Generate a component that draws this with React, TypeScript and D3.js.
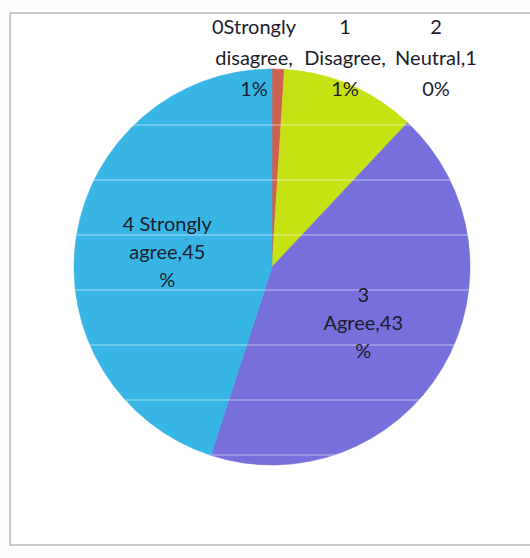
import React from "react";
import * as d3 from "d3";

const categories = ["0Strongly disagree", "1 Disagree", "2 Neutral", "3 Agree", "4 Strongly agree"];
const values = [1, 1, 10, 43, 45];
const colors = ["#cf5f4f", "#c5e116", "#c6e212", "#776fdc", "#37b6e6"];
const labelLines = [
  ["0Strongly", "disagree,", "1%"],
  ["1", "Disagree,", "1%"],
  ["2", "Neutral,1", "0%"],
  ["3", "Agree,43", "%"],
  ["4 Strongly", "agree,45", "%"],
];

const W = 530, H = 558;
const cx = 272, cy = 267, R = 198;

export default function App() {
  const pie = d3.pie<number>().value((d) => d).sort(null);
  const arcs = pie(values);
  const arc = d3.arc<d3.PieArcDatum<number>>().innerRadius(0).outerRadius(R);
  const labelArc = d3.arc<d3.PieArcDatum<number>>().innerRadius(106).outerRadius(106);
  const fs = 20;
  const stripes = d3.range(cy - R + 56, cy + R, 55);

  return (
    <svg width={W} height={H} style={{ position: "absolute", left: 0, top: 0, background: "#fdfdfd" }}
      fontFamily="Lato, 'Open Sans', sans-serif">
      <rect x={10} y={13} width={W + 10} height={532} fill="#ffffff" stroke="#9a9a9a" strokeWidth={1} />
      <defs>
        <clipPath id="pieclip"><circle cx={cx} cy={cy} r={R} /></clipPath>
      </defs>
      <g transform={`translate(${cx},${cy})`}>
        {arcs.map((a, i) => (
          <path key={i} d={arc(a) || ""} fill={colors[i]} stroke={colors[i]} strokeWidth={0.6} />
        ))}
      </g>
      <g clipPath="url(#pieclip)">
        {stripes.map((y, i) => (
          <line key={i} x1={cx - R} x2={cx + R} y1={y} y2={y} stroke="#ffffff" strokeOpacity={0.28} strokeWidth={2} />
        ))}
      </g>
      {arcs.map((a, i) => {
        let x: number, y: number, lh: number;
        if (i < 3) {
          x = cx - 18 + i * 91;
          y = cy - R - 11;
          lh = 31;
        } else {
          const c = labelArc.centroid(a);
          x = cx + c[0];
          y = cy + c[1] + 2;
          lh = 28;
        }
        return (
          <text key={i} textAnchor="middle" fontSize={fs} fill="#1c1c2c">
            {labelLines[i].map((t, j) => (
              <tspan key={j} x={x} y={y + (j - 1) * lh + 7}>{t}</tspan>
            ))}
          </text>
        );
      })}
    </svg>
  );
}
